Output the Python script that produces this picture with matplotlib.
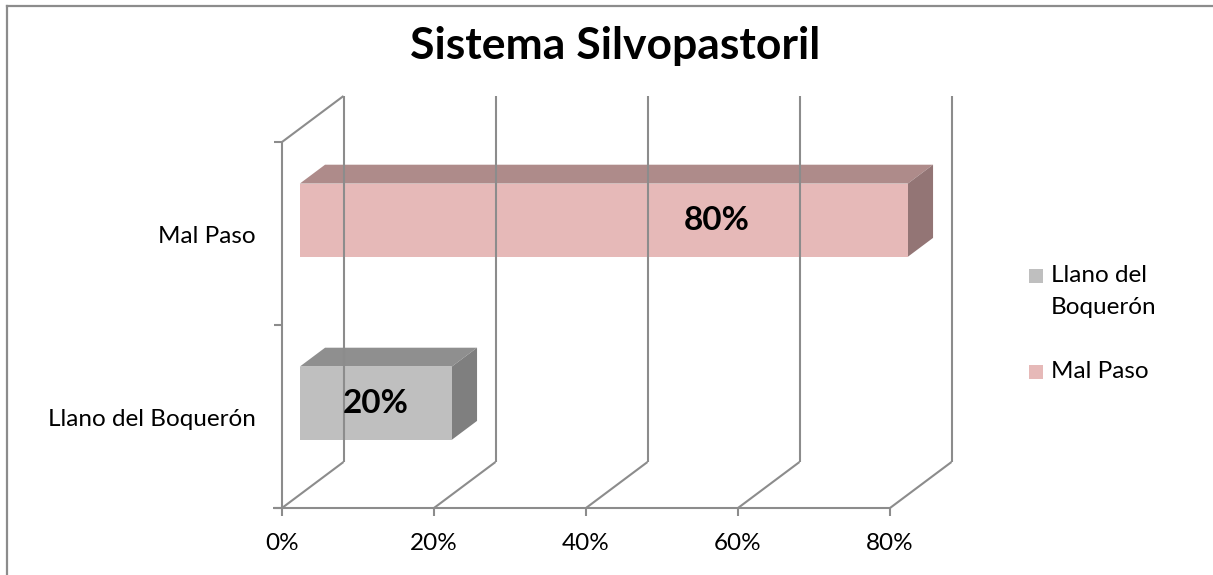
import matplotlib
matplotlib.use("Agg")
from matplotlib import pyplot as plt
from matplotlib.patches import Polygon, Rectangle
from matplotlib.lines import Line2D
from matplotlib.transforms import IdentityTransform, offset_copy

plt.rcParams['font.family'] = ['Lato', 'DejaVu Sans']

# data
categories = ['Llano del Boquerón', 'Mal Paso']
values = [0.20, 0.80]
value_labels = ['20%', '80%']
legend_labels = [['Llano del', 'Boquerón'], ['Mal Paso']]
ticks = [0.0, 0.2, 0.4, 0.6, 0.8]
tick_labels = ['0%', '20%', '40%', '60%', '80%']

# colours: front, top, side
face_colors = ['#bfbfbf', '#e6b9b8']
top_colors = ['#8f8f8f', '#ae8b8a']
side_colors = ['#7f7f7f', '#937575']
grid_color = '#8c8c8c'

W, H = 1213, 575
fig = plt.figure(figsize=(W / 100, H / 100), dpi=100)

# front plane of the 3d box, in pixels
left, right, top, bottom = 282, 890, 142, 508
ax = fig.add_axes([left / W, (H - bottom) / H, (right - left) / W, (bottom - top) / H])
ax.set_xlim(0, 0.8)
ax.set_ylim(-0.5, len(categories) - 0.5)
ax.axis('off')

DX, DY = 61.5, 46.0   # full depth offset in pixels
ident = IdentityTransform()


def proj(x, y, d):
    px, py = ax.transData.transform((x, y))
    return px + DX * d, py + DY * d


def seg(p, q, **kw):
    fig.add_artist(Line2D([p[0], q[0]], [p[1], q[1]], transform=ident,
                          color=grid_color, lw=1.5, solid_capstyle='butt', **kw))


ymin, ymax = -0.5, len(categories) - 0.5

# back wall gridlines and floor
for t in ticks:
    seg(proj(t, ymin, 1), proj(t, ymax, 1))
    seg(proj(t, ymin, 0), proj(t, ymin, 1))
    # tick below front floor
    p = proj(t, ymin, 0)
    seg(p, (p[0], p[1] - 8))

# left side wall
seg(proj(0, ymax, 0), proj(0, ymax, 1))
seg(proj(0, ymin, 0), proj(0, ymax, 0))
# front floor line
p0 = proj(0, ymin, 0)
seg((p0[0] - 9, p0[1]), proj(0.8, ymin, 0))
# category axis ticks
for yb in [ymin + i for i in range(len(categories) + 1)]:
    p = proj(0, yb, 0)
    seg((p[0] - 8, p[1]), p)

# bars
d0, d1 = 0.29, 0.70
hh = 0.2
label_frac = [0.5, 0.686]
for i, v in enumerate(values):
    y = i
    front = [proj(0, y - hh, d0), proj(v, y - hh, d0), proj(v, y + hh, d0), proj(0, y + hh, d0)]
    topf = [proj(0, y + hh, d0), proj(v, y + hh, d0), proj(v, y + hh, d1), proj(0, y + hh, d1)]
    side = [proj(v, y - hh, d0), proj(v, y - hh, d1), proj(v, y + hh, d1), proj(v, y + hh, d0)]
    for poly, c in [(topf, top_colors[i]), (side, side_colors[i]), (front, face_colors[i])]:
        fig.add_artist(Polygon(poly, closed=True, facecolor=c, edgecolor='none',
                               transform=ident))
    lx, ly = proj(v * label_frac[i], y, d0)
    fig.text(lx / W, ly / H, value_labels[i], ha='center', va='center',
             fontsize=24, fontweight='bold', color='black')

# category labels
lab_tr = offset_copy(ax.transData, fig=fig, x=-26, y=-3, units='dots')
for i, c in enumerate(categories):
    ax.text(0, i, c, transform=lab_tr, ha='right', va='center', fontsize=17.5, clip_on=False)

# value tick labels
for t, s in zip(ticks, tick_labels):
    px, py = proj(t, ymin, 0)
    fig.text(px / W, (py - 35) / H, s, ha='center', va='center', fontsize=17.5)

# title
fig.text(615 / W, (H - 46) / H, 'Sistema Silvopastoril', ha='center', va='center',
         fontsize=32, fontweight='bold')

# legend
leg_y = [276, 372]
for i, lines in enumerate(legend_labels):
    yc = H - leg_y[i]
    fig.add_artist(Rectangle((1029 / W, (yc - 7) / H), 14 / W, 14 / H,
                             facecolor=face_colors[i], edgecolor='none',
                             transform=fig.transFigure))
    for k, s in enumerate(lines):
        fig.text(1051 / W, (yc - 31 * k) / H, s, ha='left', va='center', fontsize=17.5)

# chart border
fig.add_artist(Line2D([7 / W, 1], [1 - 6 / H, 1 - 6 / H], transform=fig.transFigure,
                      color=grid_color, lw=1.6))
fig.add_artist(Line2D([7 / W, 7 / W], [0, 1 - 6 / H], transform=fig.transFigure,
                      color=grid_color, lw=1.6))

fig.savefig('out.png', dpi=100)
